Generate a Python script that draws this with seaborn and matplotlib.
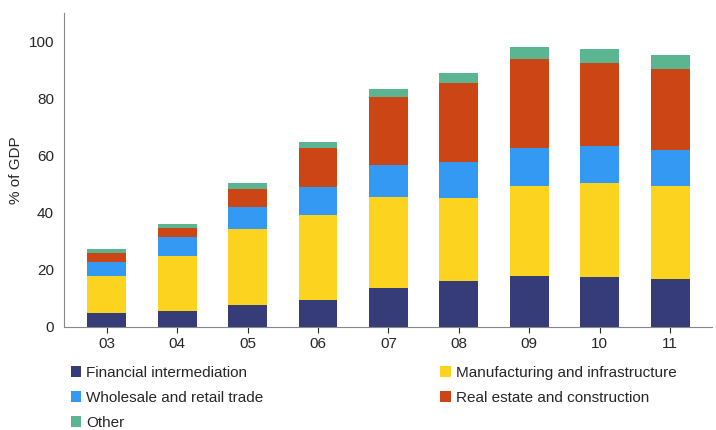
import numpy as np
import pandas as pd
import matplotlib.pyplot as plt
import seaborn as sns

years = ['03', '04', '05', '06', '07', '08', '09', '10', '11']
financial = [4.9, 5.6, 7.7, 9.5, 13.7, 16.1, 17.9, 17.5, 16.8]
manufacturing = [13.0, 19.3, 26.7, 29.8, 31.9, 29.2, 31.6, 33.0, 32.7]
wholesale = [4.9, 6.7, 7.7, 9.8, 11.2, 12.6, 13.3, 13.0, 12.6]
real_estate = [3.2, 3.1, 6.3, 13.4, 23.9, 27.7, 30.9, 29.1, 28.4]
other = [1.4, 1.4, 2.1, 2.1, 2.8, 3.5, 4.2, 4.6, 4.9]

series = [
    ('Financial intermediation', financial, '#353c77'),
    ('Manufacturing and infrastructure', manufacturing, '#fcd41f'),
    ('Wholesale and retail trade', wholesale, '#3399f3'),
    ('Real estate and construction', real_estate, '#cc4514'),
    ('Other', other, '#5bb591'),
]

sns.set_style('white')
plt.rcParams['font.family'] = ['Liberation Sans', 'DejaVu Sans']
fig, ax = plt.subplots(figsize=(7.16, 4.3), dpi=100)
fig.subplots_adjust(left=0.09, right=0.995, top=0.97, bottom=0.24)

bottom = np.zeros(len(years))
for name, vals, col in series:
    df = pd.DataFrame({'year': years, 'v': vals})
    ax.bar(df['year'], df['v'], bottom=bottom, color=col, width=0.55,
           linewidth=0, label=name)
    bottom += np.array(vals)

ax.set_ylim(0, 110)
ax.set_xlim(-0.6, 8.6)
ax.set_yticks([0, 20, 40, 60, 80, 100])
ax.set_ylabel('% of GDP', fontsize=11)
ax.tick_params(labelsize=11, length=4, direction='out', bottom=True)
sns.despine(ax=ax)
for s in ['left', 'bottom']:
    ax.spines[s].set_color('#888888')

# row-major order for a 2-column legend
h, l = ax.get_legend_handles_labels()
order = [0, 2, 4, 1, 3]
ax.legend([h[i] for i in order], [l[i] for i in order],
          loc='upper left', bbox_to_anchor=(0.0, -0.105), ncol=2, frameon=False,
          fontsize=11, handlelength=0.7, handleheight=0.7, handletextpad=0.3,
          columnspacing=11.6, labelspacing=0.72, borderaxespad=0)
fig.savefig('out.png')
